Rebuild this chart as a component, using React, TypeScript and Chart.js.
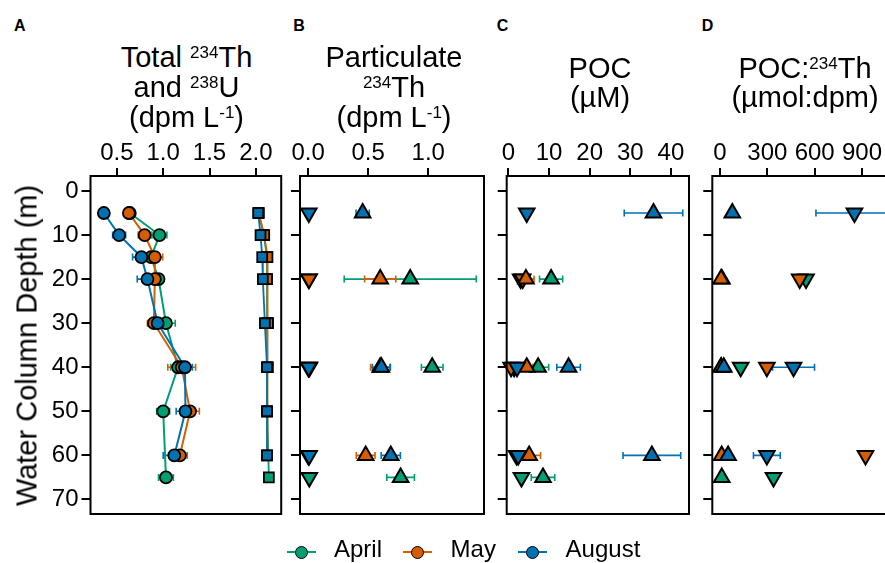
import React, { useEffect, useRef } from "react";
import { Chart, registerables } from "chart.js";

Chart.register(...registerables);

const FONT = "'Liberation Sans', Arial, Helvetica, sans-serif";

const months = ["April", "May", "August"];
const monthColors = ["#009E73", "#D55E00", "#0072B2"];

const depthTicks = [0, 10, 20, 30, 40, 50, 60, 70];

// ---- Panel A: total 234Th (circles) and 238U (squares), dpm/L
const thDepthApril = [5, 10, 15, 20, 30, 40, 50, 65];
const thApril = [0.64, 0.96, 0.87, 0.95, 1.03, 1.16, 1.0, 1.03];
const thErrApril = [0.04, 0.08, 0.05, 0.05, 0.1, 0.08, 0.07, 0.08];
const thDepthMay = [5, 10, 15, 20, 30, 40, 50, 60];
const thMay = [0.63, 0.8, 0.91, 0.91, 0.9, 1.2, 1.29, 1.18];
const thErrMay = [0.05, 0.07, 0.085, 0.05, 0.07, 0.15, 0.1, 0.08];
const thDepthAug = [5, 10, 15, 20, 30, 40, 50, 60];
const thAug = [0.36, 0.525, 0.765, 0.83, 0.94, 1.235, 1.24, 1.12];
const thErrAug = [0.03, 0.07, 0.095, 0.11, 0.08, 0.08, 0.1, 0.12];

const uDepthApril = [5, 10, 15, 20, 30, 40, 50, 65];
const uApril = [2.03, 2.085, 2.12, 2.12, 2.13, 2.12, 2.12, 2.14];
const uDepthMay = [5, 10, 15, 20, 30, 40, 50, 60];
const uMay = [2.03, 2.09, 2.125, 2.12, 2.13, 2.13, 2.12, 2.12];
const uDepthAug = [5, 10, 15, 20, 30, 40, 50, 60];
const uAug = [2.025, 2.05, 2.068, 2.075, 2.097, 2.12, 2.12, 2.12];

// ---- depths of the particle samples
const pDepthApril = [20, 40, 65];
const pDepthMay = [20, 40, 60];
const pDepthAug = [5, 40, 60];

// ---- Panel B: particulate 234Th (dpm/L)
const pthUpApril = [0.85, 1.033, 0.77];
const pthUpErrApril = [0.55, 0.09, 0.115];
const pthUpMay = [0.6, 0.6, 0.479];
const pthUpErrMay = [0.13, 0.08, 0.078];
const pthUpAug = [0.454, 0.61, 0.688];
const pthUpErrAug = [0.055, 0.075, 0.08];
const pthDownApril = [0.0055, 0.011, 0.0094];
const pthDownMay = [0.0069, 0.0022, 0.0022];
const pthDownAug = [0.0053, 0.0045, 0.008];

// ---- Panel C: POC (uM)
const pocUpApril = [10.5, 7.3, 8.5];
const pocUpErrApril = [2.85, 2.6, 2.9];
const pocUpMay = [4.3, 4.5, 5.1];
const pocUpErrMay = [2.0, 1.5, 2.8];
const pocUpAug = [35.7, 14.8, 35.3];
const pocUpErrAug = [7.2, 2.9, 7.1];
const pocDownApril = [3.0, 1.4, 3.2];
const pocDownMay = [3.5, 0.65, 2.0];
const pocDownAug = [4.5, 2.1, 2.4];

// ---- Panel D: POC:234Th (umol/dpm)
const ratioUpApril = [12, 7, 11];
const ratioUpMay = [7, 7.5, 10.6];
const ratioUpAug = [78, 24, 51];
const ratioDownApril = [545, 131, 339];
const ratioDownMay = [505, 297, 922];
const ratioDownAug = [852, 466, 297];
const ratioDownErrAug = [244, 133, 85];

// ---- axis ticks
const xTicksA = [0.5, 1.0, 1.5, 2.0];
const xLabelsA = ["0.5", "1.0", "1.5", "2.0"];
const xTicksB = [0, 0.5, 1.0];
const xLabelsB = ["0.0", "0.5", "1.0"];
const xTicksC = [0, 10, 20, 30, 40];
const xLabelsC = ["0", "10", "20", "30", "40"];
const xTicksD = [0, 300, 600, 900];
const xLabelsD = ["0", "300", "600", "900"];

type Style = "circle" | "rect" | "triUp" | "triDown";
type Series = {
  depths: number[];
  values: number[];
  err?: number[];
  color: string;
  style: Style;
  line?: boolean;
  lineWidth?: number;
};

const CANVAS_TOP = 130;
const CANVAS_H = 410;
const AREA_TOP = 176;
const AREA_BOTTOM = 514;

const errorBarPlugin = {
  id: "errbars",
  beforeDatasetsDraw(chart: any) {
    const ctx = chart.ctx;
    const xs = chart.scales.x;
    const ys = chart.scales.y;
    const list = [...chart.data.datasets].reverse();
    list.forEach((ds: any) => {
      if (!ds.xErr) return;
      ctx.save();
      ctx.strokeStyle = ds.errColor;
      ctx.lineWidth = 1.6;
      ds.data.forEach((p: any, i: number) => {
        const e = ds.xErr[i];
        if (!e) return;
        const y = ys.getPixelForValue(p.y);
        const x1 = xs.getPixelForValue(p.x - e);
        const x2 = xs.getPixelForValue(p.x + e);
        ctx.beginPath();
        ctx.moveTo(x1, y);
        ctx.lineTo(x2, y);
        ctx.moveTo(x1, y - 3.5);
        ctx.lineTo(x1, y + 3.5);
        ctx.moveTo(x2, y - 3.5);
        ctx.lineTo(x2, y + 3.5);
        ctx.stroke();
      });
      ctx.restore();
    });
  },
};

const framePlugin = {
  id: "frame",
  afterDatasetsDraw(chart: any) {
    const { ctx, chartArea: a } = chart;
    ctx.save();
    ctx.strokeStyle = "#000";
    ctx.lineWidth = 2;
    ctx.strokeRect(a.left, a.top, a.right - a.left, a.bottom - a.top);
    ctx.restore();
  },
};

function buildDatasets(series: Series[]) {
  const lines = series
    .filter((s) => s.line)
    .map((s) => ({
      data: s.depths.map((d, i) => ({ x: s.values[i], y: d })),
      showLine: true,
      borderColor: s.color,
      borderWidth: s.lineWidth ?? 2,
      pointRadius: 0,
      fill: false,
      tension: 0,
      clip: false,
    }));
  const pts = series.map((s) => ({
    data: s.depths.map((d, i) => ({ x: s.values[i], y: d })),
    showLine: false,
    pointStyle: s.style === "circle" ? "circle" : s.style === "rect" ? "rect" : "triangle",
    pointRotation: s.style === "triDown" ? 180 : 0,
    pointRadius: s.style === "circle" ? 6 : s.style === "rect" ? 7 : 9,
    pointBackgroundColor: s.color,
    pointBorderColor: "#000",
    pointBorderWidth: s.style === "circle" || s.style === "rect" ? 1.8 : 2,
    xErr: s.err,
    errColor: s.color,
    clip: false,
  }));
  return [...lines, ...pts].reverse();
}

type PanelCfg = {
  canvasLeft: number;
  canvasW: number;
  frameL: number;
  frameR: number;
  xMin: number;
  xMax: number;
  xTicks: number[];
  xLabels: string[];
  showYLabels: boolean;
  series: Series[];
};

function Panel({ cfg }: { cfg: PanelCfg }) {
  const ref = useRef<HTMLCanvasElement>(null);
  useEffect(() => {
    const yAxisW = cfg.frameL - cfg.canvasLeft;
    const xAxisH = AREA_TOP - CANVAS_TOP;
    const padRight = cfg.canvasLeft + cfg.canvasW - cfg.frameR;
    const padBottom = CANVAS_TOP + CANVAS_H - AREA_BOTTOM;
    const chart = new Chart(ref.current as HTMLCanvasElement, {
      type: "scatter",
      data: { datasets: buildDatasets(cfg.series) as any },
      options: {
        animation: false,
        responsive: false,
        maintainAspectRatio: false,
        events: [],
        layout: { padding: { left: 0, top: 0, right: padRight, bottom: padBottom } },
        plugins: {
          legend: { display: false },
          tooltip: { enabled: false },
          title: { display: false },
        },
        scales: {
          x: {
            type: "linear",
            position: "top",
            min: cfg.xMin,
            max: cfg.xMax,
            afterBuildTicks: (s: any) => {
              s.ticks = cfg.xTicks.map((v) => ({ value: v }));
            },
            afterFit: (s: any) => {
              s.height = xAxisH;
            },
            ticks: {
              callback: (_v: any, i: number) => cfg.xLabels[i],
              font: { family: FONT, size: 24 },
              color: "#000",
              padding: 0,
              maxRotation: 0,
              minRotation: 0,
              autoSkip: false,
            },
            grid: {
              drawOnChartArea: false,
              drawTicks: true,
              tickLength: 8,
              color: "#000",
              lineWidth: 2,
            },
            border: { display: false },
          },
          y: {
            type: "linear",
            reverse: true,
            min: -3.4,
            max: 73.3,
            afterBuildTicks: (s: any) => {
              s.ticks = depthTicks.map((v) => ({ value: v }));
            },
            afterFit: (s: any) => {
              s.width = yAxisW;
            },
            ticks: {
              display: cfg.showYLabels,
              font: { family: FONT, size: 24 },
              color: "#000",
              padding: 3,
              autoSkip: false,
            },
            grid: {
              drawOnChartArea: false,
              drawTicks: true,
              tickLength: 9,
              color: "#000",
              lineWidth: 2,
            },
            border: { display: false },
          },
        },
      } as any,
      plugins: [errorBarPlugin, framePlugin],
    });
    return () => chart.destroy();
  }, []);
  return (
    <canvas
      ref={ref}
      width={cfg.canvasW}
      height={CANVAS_H}
      style={{
        position: "absolute",
        left: cfg.canvasLeft,
        top: CANVAS_TOP,
        width: cfg.canvasW,
        height: CANVAS_H,
        display: "block",
      }}
    />
  );
}

const [G, O, B] = monthColors;

const panelA: PanelCfg = {
  canvasLeft: 0,
  canvasW: 290,
  frameL: 90.5,
  frameR: 282.5,
  xMin: 0.216,
  xMax: 2.273,
  xTicks: xTicksA,
  xLabels: xLabelsA,
  showYLabels: true,
  series: [
    { depths: thDepthApril, values: thApril, err: thErrApril, color: G, style: "circle", line: true },
    { depths: thDepthMay, values: thMay, err: thErrMay, color: O, style: "circle", line: true },
    { depths: thDepthAug, values: thAug, err: thErrAug, color: B, style: "circle", line: true },
    { depths: uDepthApril, values: uApril, color: G, style: "rect", line: true, lineWidth: 1.8 },
    { depths: uDepthMay, values: uMay, color: O, style: "rect", line: true, lineWidth: 1.8 },
    { depths: uDepthAug, values: uAug, color: B, style: "rect", line: true, lineWidth: 1.8 },
  ],
};

const panelB: PanelCfg = {
  canvasLeft: 270,
  canvasW: 225,
  frameL: 300,
  frameR: 488,
  xMin: -0.068,
  xMax: 1.4645,
  xTicks: xTicksB,
  xLabels: xLabelsB,
  showYLabels: false,
  series: [
    { depths: pDepthApril, values: pthDownApril, color: G, style: "triDown" },
    { depths: pDepthApril, values: pthUpApril, err: pthUpErrApril, color: G, style: "triUp" },
    { depths: pDepthMay, values: pthDownMay, color: O, style: "triDown" },
    { depths: pDepthMay, values: pthUpMay, err: pthUpErrMay, color: O, style: "triUp" },
    { depths: pDepthAug, values: pthDownAug, color: B, style: "triDown" },
    { depths: pDepthAug, values: pthUpAug, err: pthUpErrAug, color: B, style: "triUp" },
  ],
};

const panelC: PanelCfg = {
  canvasLeft: 478,
  canvasW: 222,
  frameL: 506.7,
  frameR: 693.5,
  xMin: -0.43,
  xMax: 44.44,
  xTicks: xTicksC,
  xLabels: xLabelsC,
  showYLabels: false,
  series: [
    { depths: pDepthApril, values: pocDownApril, color: G, style: "triDown" },
    { depths: pDepthApril, values: pocUpApril, err: pocUpErrApril, color: G, style: "triUp" },
    { depths: pDepthMay, values: pocDownMay, color: O, style: "triDown" },
    { depths: pDepthMay, values: pocUpMay, err: pocUpErrMay, color: O, style: "triUp" },
    { depths: pDepthAug, values: pocDownAug, color: B, style: "triDown" },
    { depths: pDepthAug, values: pocUpAug, err: pocUpErrAug, color: B, style: "triUp" },
  ],
};

const panelD: PanelCfg = {
  canvasLeft: 685,
  canvasW: 225,
  frameL: 712.3,
  frameR: 897.7,
  xMin: -48.8,
  xMax: 1126,
  xTicks: xTicksD,
  xLabels: xLabelsD,
  showYLabels: false,
  series: [
    { depths: pDepthApril, values: ratioDownApril, color: G, style: "triDown" },
    { depths: pDepthApril, values: ratioUpApril, color: G, style: "triUp" },
    { depths: pDepthMay, values: ratioDownMay, color: O, style: "triDown" },
    { depths: pDepthMay, values: ratioUpMay, color: O, style: "triUp" },
    { depths: pDepthAug, values: ratioDownAug, err: ratioDownErrAug, color: B, style: "triDown" },
    { depths: pDepthAug, values: ratioUpAug, color: B, style: "triUp" },
  ],
};

const TITLE_FS = 29;
const SUP_FS = 17;

function Line({ cx, baseline, children }: { cx: number; baseline: number; children: any }) {
  return (
    <div
      style={{
        position: "absolute",
        left: cx - 150,
        width: 300,
        top: baseline - 0.8465 * TITLE_FS,
        fontSize: TITLE_FS,
        lineHeight: TITLE_FS + "px",
        height: TITLE_FS,
        textAlign: "center",
        whiteSpace: "nowrap",
      }}
    >
      {children}
    </div>
  );
}

function Sup({ children }: { children: any }) {
  return <span style={{ fontSize: SUP_FS, position: "relative", top: -9 }}>{children}</span>;
}

function Letter({ x, text }: { x: number; text: string }) {
  return (
    <div
      style={{
        position: "absolute",
        left: x,
        top: 32 - 0.8465 * 16,
        fontSize: 16,
        lineHeight: "16px",
        fontWeight: "bold",
      }}
    >
      {text}
    </div>
  );
}

const legendX = [286.7, 403.3, 518.3];

function LegendItem({ x, label, color }: { x: number; label: string; color: string }) {
  const y = 552.3;
  return (
    <>
      <div style={{ position: "absolute", left: x, top: y - 1, width: 29, height: 2, background: color }} />
      <div
        style={{
          position: "absolute",
          left: x + 14.5 - 6.5,
          top: y - 6.5,
          width: 13,
          height: 13,
          boxSizing: "border-box",
          borderRadius: "50%",
          border: "1.8px solid #000",
          background: color,
        }}
      />
      <div
        style={{
          position: "absolute",
          left: x + 47.3,
          top: 557.3 - 0.8465 * 24,
          fontSize: 24,
          lineHeight: "24px",
          whiteSpace: "nowrap",
        }}
      >
        {label}
      </div>
    </>
  );
}

export default function App() {
  return (
    <div
      style={{
        position: "fixed",
        left: 0,
        top: 0,
        width: 885,
        height: 563,
        overflow: "hidden",
        background: "#fff",
        fontFamily: FONT,
        color: "#000",
      }}
    >
      <Panel cfg={panelA} />
      <Panel cfg={panelB} />
      <Panel cfg={panelC} />
      <Panel cfg={panelD} />

      <Letter x={14} text="A" />
      <Letter x={293.3} text="B" />
      <Letter x={496.7} text="C" />
      <Letter x={701.7} text="D" />

      <Line cx={186.5} baseline={68}>
        Total <Sup>234</Sup>Th
      </Line>
      <Line cx={186.5} baseline={98}>
        and <Sup>238</Sup>U
      </Line>
      <Line cx={186.5} baseline={128}>
        (dpm L<Sup>-1</Sup>)
      </Line>

      <Line cx={394} baseline={68}>
        Particulate
      </Line>
      <Line cx={394} baseline={98}>
        <Sup>234</Sup>Th
      </Line>
      <Line cx={394} baseline={128}>
        (dpm L<Sup>-1</Sup>)
      </Line>

      <Line cx={600} baseline={79}>
        POC
      </Line>
      <Line cx={600} baseline={108}>
        (µM)
      </Line>

      <Line cx={805} baseline={79}>
        POC:<Sup>234</Sup>Th
      </Line>
      <Line cx={805} baseline={108}>
        (µmol:dpm)
      </Line>

      <div
        style={{
          position: "absolute",
          left: 26.7 - 250,
          top: 345.5 - TITLE_FS / 2,
          width: 500,
          height: TITLE_FS,
          fontSize: TITLE_FS,
          lineHeight: TITLE_FS + "px",
          textAlign: "center",
          whiteSpace: "nowrap",
          transform: "rotate(-90deg)",
          transformOrigin: "50% 50%",
        }}
      >
        Water Column Depth (m)
      </div>

      {months.map((m, i) => (
        <LegendItem key={m} x={legendX[i]} label={m} color={monthColors[i]} />
      ))}
    </div>
  );
}
